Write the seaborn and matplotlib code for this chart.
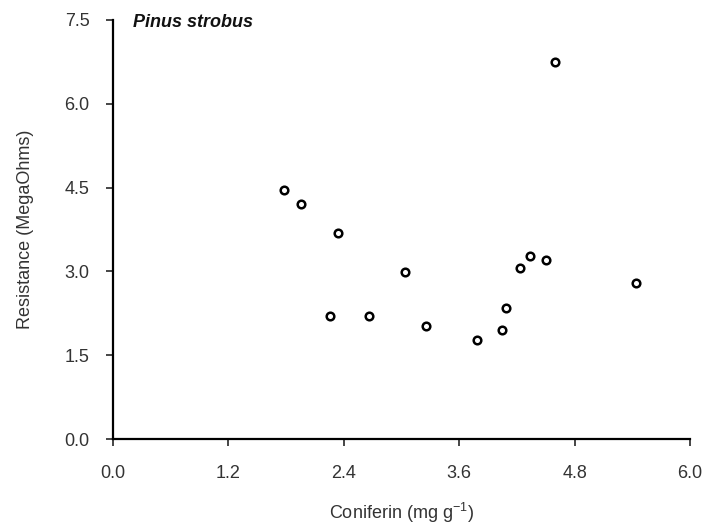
import matplotlib
matplotlib.use("Agg")
import matplotlib.pyplot as plt
import seaborn as sns
import pandas as pd

coniferin = [1.78, 1.96, 2.34, 3.04, 2.26, 2.66, 3.25, 3.78, 4.05, 4.09, 4.23, 4.34, 4.50, 4.60, 5.44]
resistance = [4.46, 4.20, 3.68, 2.99, 2.21, 2.21, 2.02, 1.77, 1.95, 2.34, 3.06, 3.27, 3.21, 6.75, 2.80]
xticks = [0.0, 1.2, 2.4, 3.6, 4.8, 6.0]
yticks = [0.0, 1.5, 3.0, 4.5, 6.0, 7.5]
title = "Pinus strobus"
xlabel = "Coniferin (mg g$^{-1}$)"
ylabel = "Resistance (MegaOhms)"

df = pd.DataFrame({"x": coniferin, "y": resistance})

sns.set_style("ticks")
plt.rcParams['font.family'] = ['Liberation Sans', 'DejaVu Sans']
plt.rcParams['mathtext.fontset'] = 'custom'
plt.rcParams['mathtext.rm'] = 'Liberation Sans'
plt.rcParams['mathtext.it'] = 'Liberation Sans:italic'

fig = plt.figure(figsize=(7.07, 5.24), dpi=100)
ax = fig.add_axes([113/707, 1 - 439/524, 577/707, 419/524])

sns.scatterplot(data=df, x="x", y="y", ax=ax, s=30, marker="o",
                facecolor="white", edgecolor="black", linewidth=1.8, zorder=3)

ax.set_xlim(0, 6.0)
ax.set_ylim(0, 7.5)
ax.set_xticks(xticks)
ax.set_yticks(yticks)
ax.set_xticklabels([f"{t:.1f}" for t in xticks])
ax.set_yticklabels([f"{t:.1f}" for t in yticks])
ax.tick_params(axis='x', length=5, width=1.2, pad=14, labelsize=13, labelcolor='#333333', direction='out')
ax.tick_params(axis='y', length=5, width=1.2, pad=12, labelsize=13, labelcolor='#333333', direction='out')

for side in ['top', 'right']:
    ax.spines[side].set_visible(False)
for side in ['left', 'bottom']:
    ax.spines[side].set_linewidth(1.6)
    ax.spines[side].set_color('black')

ax.set_xlabel(xlabel, fontsize=13, color='#333333', labelpad=13)
ax.set_ylabel(ylabel, fontsize=13, color='#333333', labelpad=22)

ax.text(0.035, 0.983, title, transform=ax.transAxes, fontsize=13,
        fontstyle='italic', fontweight='bold', va='baseline', ha='left', color='#111111')

fig.savefig("out.png", dpi=100)
